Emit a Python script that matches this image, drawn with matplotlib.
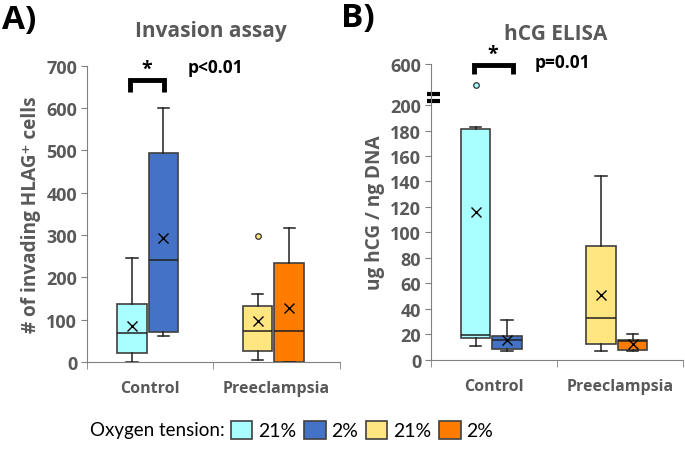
import numpy as np
import matplotlib
matplotlib.use('Agg')
import matplotlib.pyplot as plt
from matplotlib.patches import Patch

plt.rcParams['font.family'] = ['Open Sans', 'DejaVu Sans']
plt.rcParams['font.weight'] = 'bold'
plt.rcParams['axes.labelweight'] = 'bold'

categories = ['Control', 'Preeclampsia']
legend_labels = ['21%', '2%', '21%', '2%']
box_colors = ['#A9FFFF', '#4472C4', '#FFE680', '#FF7C00']

# Panel A: invasion assay (cyan, blue, yellow, orange)
inv_whislo = [0, 61, 5, 0]
inv_q1 = [20, 71, 25, 0]
inv_med = [68, 242, 73, 73]
inv_q3 = [138, 493, 133, 234]
inv_whishi = [245, 600, 161, 316]
inv_mean = [85, 293, 96, 127]
inv_fliers = [[], [], [297], []]

# Panel B: hCG ELISA
hcg_whislo = [11, 6.8, 6.8, 6.8]
hcg_q1 = [16.8, 8.4, 12.4, 7.6]
hcg_med = [19.7, 15.5, 32.6, 14.5]
hcg_q3 = [181.5, 18.4, 89.2, 15.3]
hcg_whishi = [182.5, 30.8, 144, 20.3]
hcg_mean = [116, 15.5, 50.5, 12.6]
hcg_fliers = [[400], [], [], []]

positions = [0.355, 0.605, 1.35, 1.6]
gray = '#595959'
spine_col = '#808080'
edge = '#404040'
k = 0.0805  # compression above the axis break


def fwd(y):
    y = np.asarray(y, dtype=float)
    return np.where(y <= 200, y, 200 + (y - 200) * k)


def inv(y):
    y = np.asarray(y, dtype=float)
    return np.where(y <= 200, y, 200 + (y - 200) / k)


def draw_boxes(ax, whislo, q1, med, q3, whishi, mean, fliers):
    for i in range(4):
        st = [dict(whislo=whislo[i], q1=q1[i], med=med[i], q3=q3[i], whishi=whishi[i],
                   mean=mean[i], fliers=fliers[i])]
        ax.bxp(st, positions=[positions[i]], widths=0.235, patch_artist=True, showmeans=True,
               capwidths=0.09, manage_ticks=False,
               boxprops=dict(facecolor=box_colors[i], edgecolor=edge, linewidth=1.2),
               medianprops=dict(color='#202020', linewidth=1.1),
               whiskerprops=dict(color='#202020', linewidth=1.1),
               capprops=dict(color='#202020', linewidth=1.1),
               meanprops=dict(marker='x', markeredgecolor='black', markersize=6.5, markeredgewidth=1.0),
               flierprops=dict(marker='o', markerfacecolor=box_colors[i], markeredgecolor='#303030',
                               markersize=4, markeredgewidth=0.9))


def style_axes(ax):
    ax.spines['top'].set_visible(False)
    ax.spines['right'].set_visible(False)
    ax.spines['left'].set_color(spine_col)
    ax.spines['bottom'].set_color(spine_col)
    ax.set_xlim(0, 2)
    ax.set_xticks([0.5, 1.5])
    ax.set_xticklabels(categories, fontsize=11.5, color=gray)
    ax.set_xticks([0, 1, 2], minor=True)
    ax.tick_params(axis='x', which='major', length=0, pad=13)
    ax.tick_params(axis='x', which='minor', length=5, color=spine_col)
    ax.tick_params(axis='y', length=4, color=spine_col, labelsize=13, labelcolor=gray, pad=3)


fig = plt.figure(figsize=(6.85, 4.52), dpi=100)

# A
ax1 = fig.add_axes([0.127, 0.197, 0.369, 0.655])
draw_boxes(ax1, inv_whislo, inv_q1, inv_med, inv_q3, inv_whishi, inv_mean, inv_fliers)
ax1.set_ylim(0, 700)
ax1.set_yticks(np.arange(0, 701, 100))
style_axes(ax1)
ax1.set_ylabel('# of invading HLAG\u207a cells', fontsize=13.7, color=gray, labelpad=4)
ax1.plot([0.344, 0.344, 0.613, 0.613], [638, 667, 667, 638], color='black', lw=3.5,
         solid_capstyle='butt', solid_joinstyle='miter', clip_on=False)
ax1.text(0.47, 693, '*', fontsize=14, ha='center', va='center')
ax1.text(0.80, 697, 'p<0.01', fontsize=12.5, ha='left', va='center')

# B
ax2 = fig.add_axes([0.629, 0.202, 0.368, 0.654])
draw_boxes(ax2, hcg_whislo, hcg_q1, hcg_med, hcg_q3, hcg_whishi, hcg_mean, hcg_fliers)
ax2.set_yscale('function', functions=(fwd, inv))
ax2.set_ylim(0, 600)
ax2.set_yticks(list(range(0, 201, 20)) + [600])
style_axes(ax2)
ax2.set_ylabel('ug hCG / ng DNA', fontsize=13.7, color=gray, labelpad=4)
for yb in [0.874, 0.8985]:
    ax2.plot([-0.017, 0.037], [yb, yb], transform=ax2.transAxes, color='black', lw=3,
             clip_on=False, solid_capstyle='butt')
tr = ax2.get_xaxis_transform()
ax2.plot([0.344, 0.344, 0.65, 0.65], [0.966, 0.9966, 0.9966, 0.966], transform=tr, color='black',
         lw=3.5, solid_capstyle='butt', solid_joinstyle='miter', clip_on=False)
ax2.text(0.49, 1.035, '*', transform=tr, fontsize=14, ha='center', va='center')
ax2.text(0.825, 1.007, 'p=0.01', transform=tr, fontsize=12.5, ha='left', va='center')

# titles and panel letters
fig.text(211 / 685, 1 - 32 / 452, 'Invasion assay', fontsize=15, color=gray,
         ha='center', va='center')
fig.text(556 / 685, 1 - 34 / 452, 'hCG ELISA', fontsize=15, color=gray,
         ha='center', va='center')
fig.text(2 / 685, 1 - 20 / 452, 'A)', fontsize=24, ha='left', va='center')
fig.text(341 / 685, 1 - 18 / 452, 'B)', fontsize=24, ha='left', va='center')

# legend
fig.text(90 / 685, 1 - 431 / 452, 'Oxygen tension:', fontsize=13.5, fontweight='normal',
         family='Lato', ha='left', va='center')
handles = [Patch(facecolor=c, edgecolor=edge, linewidth=1.2) for c in box_colors]
leg = fig.legend(handles, legend_labels, loc='center left', bbox_to_anchor=(231 / 685, 1 - 431 / 452),
                 ncol=4, frameon=False, prop=dict(family='Lato', size=14, weight='normal'),
                 handlelength=1.1, handleheight=1.05, handletextpad=0.3, columnspacing=0.4,
                 borderaxespad=0, borderpad=0)

fig.savefig('out.png', dpi=100)
